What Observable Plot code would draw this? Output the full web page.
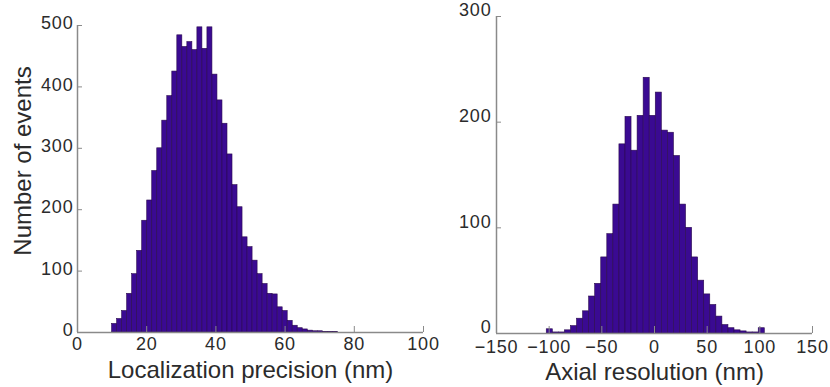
<!DOCTYPE html>
<html>
<head>
<meta charset="utf-8">
<script src="https://cdn.jsdelivr.net/npm/d3@7"></script>
<script src="https://cdn.jsdelivr.net/npm/@observablehq/plot@0.6"></script>
<style>
  html, body { margin: 0; padding: 0; background: #fff; }
  #wrap { position: relative; width: 830px; height: 387px; overflow: hidden; }
  #wrap svg { position: absolute; top: 0; overflow: visible; }
  g[aria-label="x-axis tick label"], g[aria-label="y-axis tick label"] { letter-spacing: 0.8px; }
  g[aria-label="x-axis label"] { font-size: 24px; }
</style>
</head>
<body>
<div id="wrap"></div>
<script>
// ---- Data ----
// Left: localization precision histogram
const precisionBinStart = 10;
const precisionBinWidth = 1.45;
const precisionCounts = [14, 22, 35, 63, 95, 133, 182, 215, 263, 300, 345, 385, 425, 484, 465, 473, 460, 497, 462, 497,
  420, 378, 340, 290, 240, 204, 155, 139, 117, 95, 79, 63, 62, 41, 35, 19, 11, 7, 5, 3, 2, 2, 1, 1, 1];
const precisionTicks = [0, 20, 40, 60, 80, 100];
const precisionCountTicks = [0, 100, 200, 300, 400, 500];

// Right: axial resolution histogram
const axialBinStart = -102.3;
const axialBinWidth = 5.75;
const axialCounts = [4, 1, 1, 3, 7, 14, 21, 35, 47, 72, 94, 122, 179, 205, 173, 206, 242, 206, 228, 192,
  190, 168, 122, 100, 72, 50, 37, 27, 16, 8, 5, 3, 2, 1, 1, 5];
const axialTicks = [-150, -100, -50, 0, 50, 100, 150];
const axialCountTicks = [0, 100, 200, 300];

// ---- Build bin tables ----
const toBins = (start, width, counts) => counts.map((c, i) => ({x1: start + i * width, x2: start + (i + 1) * width, count: c}));
const precisionBins = toBins(precisionBinStart, precisionBinWidth, precisionCounts);
const axialBins = toBins(axialBinStart, axialBinWidth, axialCounts);

const barFill = "#3a0a92", barStroke = "#2b0a4e", axisColor = "#8a8a8a", textColor = "#2b2b2b";
const style = {fontFamily: "'Liberation Sans', Arial, Helvetica, sans-serif", fontSize: "18px", color: textColor, background: "transparent", overflow: "visible"};
const blank = () => "";

const left = Plot.plot({
  width: 430, height: 387,
  marginLeft: 77, marginRight: 7, marginTop: 25, marginBottom: 55,
  x: {domain: [precisionTicks[0], precisionTicks[precisionTicks.length - 1]]},
  y: {domain: [precisionCountTicks[0], precisionCountTicks[precisionCountTicks.length - 1]]},
  style,
  marks: [
    Plot.rectY(precisionBins, {x1: "x1", x2: "x2", y: "count", fill: barFill, stroke: barStroke, strokeWidth: 0.6}),
    Plot.ruleY([precisionCountTicks[0]], {stroke: axisColor, strokeWidth: 1.5}),
    Plot.ruleX([precisionTicks[0]], {stroke: axisColor, strokeWidth: 1.5}),
    Plot.axisX({ticks: precisionTicks, tickSize: -6, tickPadding: 11, stroke: axisColor, fill: textColor,
      label: "Localization precision (nm)", labelAnchor: "center", labelOffset: 45, labelArrow: "none"}),
    Plot.axisY({ticks: precisionCountTicks, tickSize: -5, tickFormat: blank, stroke: axisColor, label: null}),
    Plot.axisY({ticks: precisionCountTicks, tickSize: 0, tickPadding: 4, dy: -2, fill: textColor, label: null}),
    Plot.text(["Number of events"], {text: d => d, frameAnchor: "left", textAnchor: "middle", rotate: -90, dx: -54, dy: -18, fontSize: 24, fill: textColor})
  ]
});

const right = Plot.plot({
  width: 400, height: 387,
  marginLeft: 66, marginRight: 18, marginTop: 16, marginBottom: 54,
  x: {domain: [axialTicks[0], axialTicks[axialTicks.length - 1]]},
  y: {domain: [axialCountTicks[0], axialCountTicks[axialCountTicks.length - 1]]},
  style,
  marks: [
    Plot.rectY(axialBins, {x1: "x1", x2: "x2", y: "count", fill: barFill, stroke: barStroke, strokeWidth: 0.6}),
    Plot.ruleY([axialCountTicks[0]], {stroke: axisColor, strokeWidth: 1.5}),
    Plot.ruleX([axialTicks[0]], {stroke: axisColor, strokeWidth: 1.5}),
    Plot.axisX({ticks: axialTicks, tickSize: -7, tickPadding: 14, stroke: axisColor, fill: textColor,
      label: "Axial resolution (nm)", labelAnchor: "center", labelOffset: 46, labelArrow: "none"}),
    Plot.axisY({ticks: axialCountTicks, tickSize: -5, tickFormat: blank, stroke: axisColor, label: null}),
    Plot.axisY({ticks: axialCountTicks, tickSize: 0, tickPadding: 5, dy: -6, fill: textColor, label: null})
  ]
});

left.style.left = "0px";
right.style.left = "430px";
document.getElementById("wrap").append(left, right);
</script>
</body>
</html>
